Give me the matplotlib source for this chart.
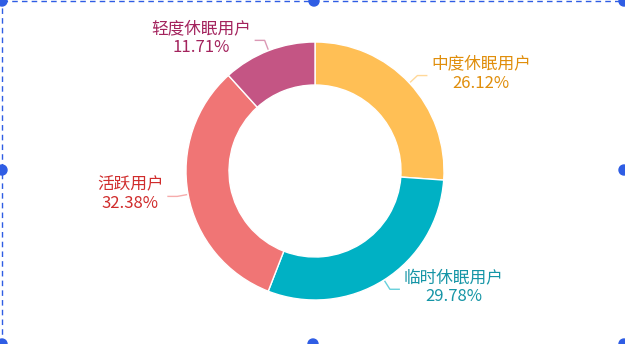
import numpy as np
import matplotlib
matplotlib.use("Agg")
import matplotlib.pyplot as plt
from matplotlib.patches import Circle

plt.rcParams['font.family'] = ['Noto Sans CJK SC', 'DejaVu Sans']

# ---- data ----
categories = ['中度休眠用户', '临时休眠用户', '活跃用户', '轻度休眠用户']
values = [26.12, 29.78, 32.38, 11.71]
slice_colors = ['#FFBF55', '#00B1C4', '#F07575', '#C45584']
label_colors = ['#E08E0B', '#1595A6', '#D02C2C', '#A3235D']

W, H = 625, 344
fig = plt.figure(figsize=(W / 100, H / 100), dpi=100)
ax = fig.add_axes([0, 0, 1, 1])

cx, cy = 315, H - 171
r_out, r_in = 129, 86

wedges, _ = ax.pie(values, colors=slice_colors, startangle=90, counterclock=False,
                   radius=r_out, center=(cx, cy),
                   wedgeprops=dict(width=r_out - r_in, edgecolor='white', linewidth=1))

ax.set_xlim(0, W)
ax.set_ylim(0, H)
ax.set_aspect('auto')
ax.axis('off')

# labels with leader lines
for w, cat, v, sc, lc in zip(wedges, categories, values, slice_colors, label_colors):
    ang = np.deg2rad((w.theta1 + w.theta2) / 2)
    ca, sa = np.cos(ang), np.sin(ang)
    p0 = (cx + (r_out + 1) * ca, cy + (r_out + 1) * sa)
    p1 = (cx + (r_out + 11) * ca, cy + (r_out + 11) * sa)
    side = 1 if ca >= 0 else -1
    p2 = (p1[0] + side * 10, p1[1])
    ax.plot([p0[0], p1[0], p2[0]], [p0[1], p1[1], p2[1]], color=sc, lw=1, alpha=0.6,
            solid_capstyle='butt')
    ax.text(p2[0] + side * 4, p2[1] + 2, f'{cat}\n{v:.2f}%', color=lc, fontsize=12,
            ha='left' if side > 0 else 'right', va='center', multialignment='center',
            linespacing=1.15)

# selection frame decoration
blue = '#2F5DE4'
fig.add_artist(plt.Line2D([2 / W, 1], [1 - 1 / H, 1 - 1 / H], transform=fig.transFigure,
                          color=blue, lw=1, ls=(0, (4, 3))))
fig.add_artist(plt.Line2D([2 / W, 2 / W], [0, 1 - 1 / H], transform=fig.transFigure,
                          color=blue, lw=1, ls=(0, (4, 3))))
for hx, hy in [(2, 1), (314, 1), (624, 1), (2, 170), (624, 170), (2, 344), (313, 344), (624, 344)]:
    ax.add_patch(Circle((hx, H - hy), 5, color=blue, clip_on=False, zorder=5))

fig.savefig('out.png', dpi=100)
